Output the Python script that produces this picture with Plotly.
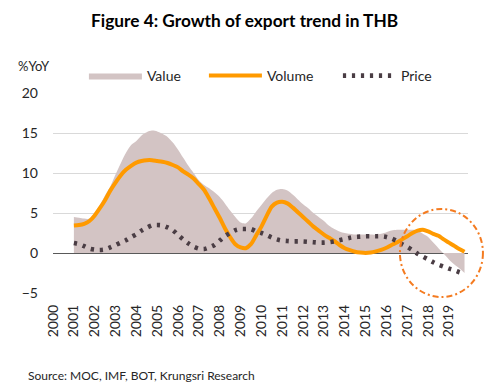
import plotly.graph_objects as go

# Quarterly sample dates (start of quarter), 2001Q1 - 2019Q4
dates = [f"{y}-{m:02d}-01" for y in range(2001, 2020) for m in (1, 4, 7, 10)]

value = [4.5, 4.4, 4.3, 4.3, 5.0, 6.0, 7.2, 8.3, 9.8, 11.2, 12.5, 13.5,
         14.0, 14.7, 15.1, 15.3, 15.2, 14.9, 14.5, 13.8, 12.9, 11.9, 10.9, 10.0,
         9.1, 8.5, 8.1, 7.6, 7.0, 6.2, 5.3, 4.5, 3.8, 3.7, 4.3, 5.2,
         6.0, 6.8, 7.5, 7.9, 8.0, 7.8, 7.3, 6.7, 6.1, 5.6, 5.0, 4.5,
         4.0, 3.4, 3.0, 2.7, 2.5, 2.4, 2.3, 2.3, 2.3, 2.3, 2.3, 2.4,
         2.6, 2.8, 2.9, 2.9, 2.9, 2.9, 2.8, 2.4, 2.0, 1.3, 0.6, -0.1,
         -0.8, -1.4, -1.9, -2.5]

volume = [3.45, 3.5, 3.65, 4.0, 4.7, 5.6, 6.6, 7.8, 8.8, 9.7, 10.4, 10.9,
          11.3, 11.5, 11.6, 11.6, 11.5, 11.4, 11.25, 11.0, 10.7, 10.2, 9.8, 9.3,
          8.6, 7.9, 6.8, 5.6, 4.4, 3.1, 2.0, 1.1, 0.7, 0.6, 1.1, 2.2,
          3.3, 4.6, 5.8, 6.3, 6.4, 6.2, 5.7, 5.1, 4.5, 3.9, 3.3, 2.8,
          2.3, 1.9, 1.5, 1.0, 0.6, 0.35, 0.15, 0.05, 0.0, 0.05, 0.2, 0.4,
          0.65, 1.0, 1.3, 1.7, 2.1, 2.5, 2.8, 2.9, 2.7, 2.4, 2.15, 1.7,
          1.3, 0.9, 0.5, 0.15]

price = [1.25, 1.1, 0.85, 0.55, 0.42, 0.38, 0.45, 0.7, 1.0, 1.3, 1.6, 2.0,
         2.35, 2.8, 3.15, 3.45, 3.5, 3.45, 3.2, 2.85, 2.25, 1.7, 1.2, 0.8,
         0.55, 0.5, 0.7, 1.0, 1.55, 2.1, 2.5, 2.85, 3.0, 3.0, 3.0, 2.7,
         2.5, 2.25, 1.95, 1.7, 1.55, 1.5, 1.45, 1.45, 1.45, 1.4, 1.35, 1.3,
         1.3, 1.35, 1.45, 1.6, 1.75, 1.9, 2.0, 2.05, 2.1, 2.1, 2.1, 2.1,
         2.0, 1.8, 1.5, 1.1, 0.75, 0.35, -0.1, -0.45, -0.8, -1.15, -1.45, -1.7,
         -1.95, -2.15, -2.4, -2.6]

years = list(range(2000, 2020))
tick_vals = [f"{y}-01-01" for y in years]
tick_text = [str(y) for y in years]
y_ticks = [-5, 0, 5, 10, 15, 20]

FONT = "Lato"
TXT = "#262626"

fig = go.Figure()
fig.add_trace(go.Scatter(
    x=dates, y=value, name="Value", mode="lines", fill="tozeroy", legendwidth=52,
    line=dict(width=0, shape="spline", smoothing=0.8, color="#D3C4C4"),
    fillcolor="#D3C4C4"))
fig.add_trace(go.Scatter(
    x=dates, y=volume, name="Volume", mode="lines", legendwidth=66,
    line=dict(width=4, shape="spline", smoothing=0.8, color="#FF9A00")))
fig.add_trace(go.Scatter(
    x=dates, y=price, name="Price", mode="lines",
    line=dict(width=4.6, shape="spline", smoothing=0.8, color="#4A3D44", dash="3.2px,5.8px")))

fig.add_shape(type="circle", xref="paper", yref="paper",
              x0=0.836, x1=1.036, y0=-0.02, y1=0.42,
              line=dict(color="#F47B20", width=2, dash="6px,3px,2px,3px"))

fig.add_annotation(text="%YoY", xref="paper", yref="paper", x=-0.09, y=1.135,
                   xanchor="left", yanchor="middle", showarrow=False,
                   font=dict(family=FONT, size=13, color=TXT))
fig.add_annotation(text="Source: MOC, IMF, BOT, Krungsri Research", xref="paper", yref="paper",
                   x=-0.065, y=-0.41, xanchor="left", yanchor="middle", showarrow=False,
                   font=dict(family=FONT, size=12, color=TXT))

fig.update_layout(
    width=495, height=390,
    margin=dict(l=53, r=27, t=93, b=97, autoexpand=False),
    paper_bgcolor="white", plot_bgcolor="white",
    font=dict(family=FONT, color=TXT),
    title=dict(text="<b>Figure 4: Growth of export trend in THB</b>", xref="container",
               x=91 / 495, xanchor="left", y=0.946, yanchor="middle",
               font=dict(family=FONT, size=17.3, color="#000000")),
    legend=dict(orientation="h", x=0.0745, y=1.085, xanchor="left", yanchor="middle",
                font=dict(family=FONT, size=14, color=TXT), itemwidth=53,
                bgcolor="rgba(0,0,0,0)"),
    showlegend=True,
)
fig.update_xaxes(type="date", range=["2000-01-01", "2019-12-01"],
                 tickvals=tick_vals, ticktext=tick_text, tickangle=-90,
                 showgrid=False, showline=False, zeroline=False, ticks="",
                 tickfont=dict(family=FONT, size=14, color=TXT), ticklabelstandoff=8)
fig.update_yaxes(range=[-5, 20], tickvals=y_ticks, showgrid=True, gridcolor="#D9D9D9",
                 gridwidth=1, zeroline=True, zerolinecolor="#595959", zerolinewidth=1,
                 showline=False, ticks="", tickfont=dict(family=FONT, size=14, color=TXT),
                 ticklabelstandoff=14)

fig.write_html("out.html", config={"displayModeBar": False},
               post_script="document.body.style.margin='0';")
